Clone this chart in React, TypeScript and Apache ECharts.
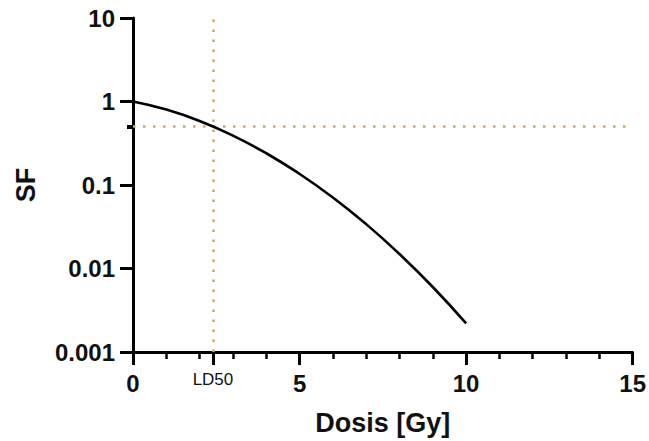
import React, { useEffect, useRef } from "react";
import * as echarts from "echarts";

// Survival curve: surviving fraction vs. dose
const doses = [0, 1, 2, 3, 4, 5, 6, 7, 8, 9, 10];
const survivingFraction = [1.0, 0.8, 0.585, 0.39, 0.24, 0.136, 0.071, 0.034, 0.0149, 0.006, 0.0022];

const ld50Dose = 2.4;
const halfSurvival = 0.5;

const xMajorTicks = [0, ld50Dose, 5, 10, 15];
const yLogTicks = [0.001, 0.01, 0.1, 1, 10];

const FONT = "Liberation Sans, Arial, Helvetica, sans-serif";
const GUIDE = "#D6A262";

export default function App() {
  const ref = useRef<HTMLDivElement>(null);

  useEffect(() => {
    if (!ref.current) return;
    const chart = echarts.init(ref.current, undefined, { renderer: "svg" });
    const grid = { left: 133, right: 16, top: 18, bottom: 89 };

    chart.setOption({
      animation: false,
      backgroundColor: "#ffffff",
      grid,
      xAxis: [
        {
          type: "value",
          min: 0,
          max: 15,
          interval: 5,
          position: "bottom",
          name: "Dosis [Gy]",
          nameLocation: "middle",
          nameGap: 57,
          nameTextStyle: { fontFamily: FONT, fontSize: 27, fontWeight: "bold", color: "#111" },
          axisLine: { show: true, onZero: false, lineStyle: { color: "#000", width: 3 } },
          axisTick: { show: true, length: 13, customValues: xMajorTicks, lineStyle: { color: "#000", width: 3 } },
          axisLabel: {
            show: true,
            customValues: xMajorTicks,
            margin: 19,
            fontFamily: FONT,
            fontSize: 24,
            fontWeight: "bold",
            color: "#111",
            formatter: (v: number) => (v === ld50Dose ? "{ld|LD50}" : String(v)),
            rich: {
              ld: { fontFamily: FONT, fontSize: 17, fontWeight: "normal", color: "#111", padding: [0, 0, 4, 0] },
            },
          },
          splitLine: { show: false },
        },
        {
          type: "value",
          min: 0,
          max: 15,
          interval: 1,
          position: "bottom",
          axisLine: { show: false, onZero: false },
          axisTick: { show: true, length: 7, lineStyle: { color: "#000", width: 2.5 } },
          axisLabel: { show: false },
          splitLine: { show: false },
        },
      ],
      yAxis: [
        {
          type: "log",
          logBase: 10,
          min: 0.001,
          max: 10,
          name: "SF",
          nameLocation: "middle",
          nameGap: 94,
          nameRotate: 90,
          nameTextStyle: { fontFamily: FONT, fontSize: 27, fontWeight: "bold", color: "#111" },
          axisLine: { show: true, onZero: false, lineStyle: { color: "#000", width: 3 } },
          axisTick: { show: true, length: 13, lineStyle: { color: "#000", width: 3 } },
          axisLabel: {
            margin: 18,
            fontFamily: FONT,
            fontSize: 24,
            fontWeight: "bold",
            color: "#111",
            formatter: (v: number) => {
              const hit = yLogTicks.find((t) => Math.abs(Math.log10(t) - Math.log10(v)) < 1e-6);
              return hit !== undefined ? String(hit) : "";
            },
          },
          splitLine: { show: false },
        },
        {
          type: "log",
          logBase: 10,
          min: 0.001,
          max: 10,
          position: "left",
          axisLine: { show: false, onZero: false },
          axisTick: { show: true, length: 6, customValues: [halfSurvival], lineStyle: { color: "#000", width: 4 } },
          axisLabel: { show: false, customValues: [halfSurvival] },
          splitLine: { show: false },
        },
      ],
      series: [
        {
          type: "line",
          xAxisIndex: 0,
          yAxisIndex: 0,
          data: doses.map((d, i) => [d, survivingFraction[i]]),
          smooth: true,
          showSymbol: false,
          lineStyle: { color: "#000", width: 2.6 },
          z: 3,
          markLine: {
            silent: true,
            symbol: "none",
            label: { show: false },
            lineStyle: { color: GUIDE, width: 2.5, type: [2.5, 7.5], cap: "butt" },
            data: [{ xAxis: ld50Dose }, { yAxis: halfSurvival }],
            z: 2,
          },
        },
      ],
    });

    return () => chart.dispose();
  }, []);

  return (
    <div
      ref={ref}
      style={{ position: "fixed", left: 0, top: 0, width: 649, height: 441, background: "#fff" }}
    />
  );
}
